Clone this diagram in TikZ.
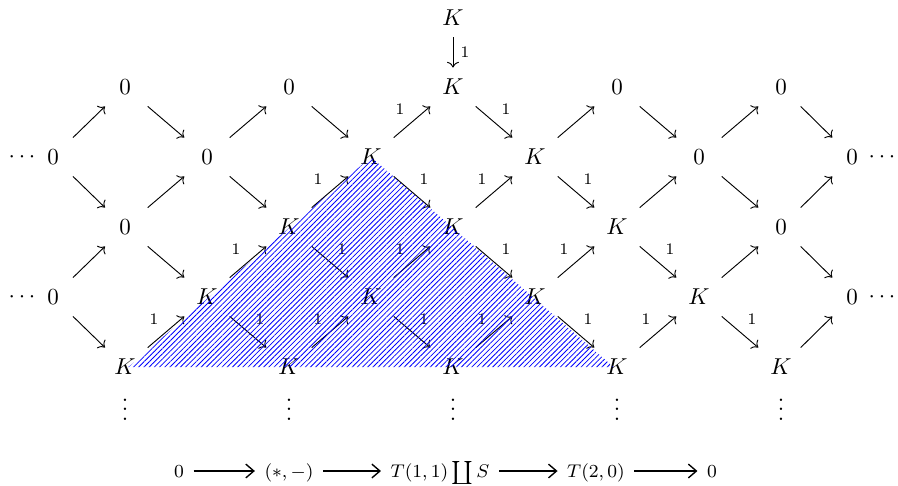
\documentclass[tikz,border=0pt]{standalone}
\usetikzlibrary{arrows.meta,patterns.meta}
\begin{document}
\begin{tikzpicture}[x=0.4348pt,y=-0.4348pt,
  cell/.style={minimum width=20pt,minimum height=16.5pt,inner sep=0pt,text height=6.83pt,text depth=0pt},
  dotcell/.style={inner sep=0pt},
  vcell/.style={inner sep=0pt,anchor=base},
  arr/.style={->},
  lab/.style={auto,font=\scriptsize,inner sep=3pt},
  seq/.style={font=\footnotesize,inner sep=4pt,text height=7pt,text depth=1pt},
  seqarr/.style={-{Straight Barb[length=3.5pt,width=6pt]},line width=0.6pt},
  hatch/.style={pattern={Lines[angle=45,distance=1.6pt,line width=0.35pt]},pattern color=blue}]
\useasboundingbox (0,0) rectangle (898,485);
% top
\node[cell] (c5r0) at (453,18) {$K$};
% row 1
\node[cell] (c1r1) at (125,87) {$0$};
\node[cell] (c3r1) at (289,87) {$0$};
\node[cell] (c5r1) at (453,87) {$K$};
\node[cell] (c7r1) at (617,87) {$0$};
\node[cell] (c9r1) at (781,87) {$0$};
% row 2
\node[dotcell] (ld2) at (22,157) {$\cdots$};
\node[cell] (c0r2) at (53,157) {$0$};
\node[cell] (c2r2) at (207,157) {$0$};
\node[cell] (c4r2) at (371,157) {$K$};
\node[cell] (c6r2) at (535,157) {$K$};
\node[cell] (c8r2) at (699,157) {$0$};
\node[cell] (c10r2) at (852,157) {$0$};
\node[dotcell] (rd2) at (882,157) {$\cdots$};
% row 3
\node[cell] (c1r3) at (125,227) {$0$};
\node[cell] (c3r3) at (289,227) {$K$};
\node[cell] (c5r3) at (453,227) {$K$};
\node[cell] (c7r3) at (617,227) {$K$};
\node[cell] (c9r3) at (781,227) {$0$};
% row 4
\node[dotcell] (ld4) at (22,297) {$\cdots$};
\node[cell] (c0r4) at (53,297) {$0$};
\node[cell] (c2r4) at (207,297) {$K$};
\node[cell] (c4r4) at (371,297) {$K$};
\node[cell] (c6r4) at (535,297) {$K$};
\node[cell] (c8r4) at (699,297) {$K$};
\node[cell] (c10r4) at (852,297) {$0$};
\node[dotcell] (rd4) at (882,297) {$\cdots$};
% row 5
\node[cell] (c1r5) at (125,367) {$K$};
\node[cell] (c3r5) at (289,367) {$K$};
\node[cell] (c5r5) at (453,367) {$K$};
\node[cell] (c7r5) at (617,367) {$K$};
\node[cell] (c9r5) at (781,367) {$K$};
% vdots
\node[vcell] (v1) at (125,420) {$\vdots$};
\node[vcell] (v3) at (289,420) {$\vdots$};
\node[vcell] (v5) at (453,420) {$\vdots$};
\node[vcell] (v7) at (617,420) {$\vdots$};
\node[vcell] (v9) at (781,420) {$\vdots$};
% arrows
\draw[arr] (c5r0) -- node[lab] {$1$} (c5r1);
% r2 -> r1
\draw[arr] (c0r2) -- (c1r1);
\draw[arr] (c2r2) -- (c3r1);
\draw[arr] (c4r2) -- node[lab] {$1$} (c5r1);
\draw[arr] (c6r2) -- (c7r1);
\draw[arr] (c8r2) -- (c9r1);
% r1 -> r2
\draw[arr] (c1r1) -- (c2r2);
\draw[arr] (c3r1) -- (c4r2);
\draw[arr] (c5r1) -- node[lab] {$1$} (c6r2);
\draw[arr] (c7r1) -- (c8r2);
\draw[arr] (c9r1) -- (c10r2);
% r2 -> r3
\draw[arr] (c0r2) -- (c1r3);
\draw[arr] (c2r2) -- (c3r3);
\draw[arr] (c4r2) -- node[lab] {$1$} (c5r3);
\draw[arr] (c6r2) -- node[lab] {$1$} (c7r3);
\draw[arr] (c8r2) -- (c9r3);
% r3 -> r2
\draw[arr] (c1r3) -- (c2r2);
\draw[arr] (c3r3) -- node[lab] {$1$} (c4r2);
\draw[arr] (c5r3) -- node[lab] {$1$} (c6r2);
\draw[arr] (c7r3) -- (c8r2);
\draw[arr] (c9r3) -- (c10r2);
% r4 -> r3
\draw[arr] (c0r4) -- (c1r3);
\draw[arr] (c2r4) -- node[lab] {$1$} (c3r3);
\draw[arr] (c4r4) -- node[lab] {$1$} (c5r3);
\draw[arr] (c6r4) -- node[lab] {$1$} (c7r3);
\draw[arr] (c8r4) -- (c9r3);
% r3 -> r4
\draw[arr] (c1r3) -- (c2r4);
\draw[arr] (c3r3) -- node[lab] {$1$} (c4r4);
\draw[arr] (c5r3) -- node[lab] {$1$} (c6r4);
\draw[arr] (c7r3) -- node[lab] {$1$} (c8r4);
\draw[arr] (c9r3) -- (c10r4);
% r4 -> r5
\draw[arr] (c0r4) -- (c1r5);
\draw[arr] (c2r4) -- node[lab] {$1$} (c3r5);
\draw[arr] (c4r4) -- node[lab] {$1$} (c5r5);
\draw[arr] (c6r4) -- node[lab] {$1$} (c7r5);
\draw[arr] (c8r4) -- node[lab] {$1$} (c9r5);
% r5 -> r4
\draw[arr] (c1r5) -- node[lab] {$1$} (c2r4);
\draw[arr] (c3r5) -- node[lab] {$1$} (c4r4);
\draw[arr] (c5r5) -- node[lab] {$1$} (c6r4);
\draw[arr] (c7r5) -- node[lab] {$1$} (c8r4);
\draw[arr] (c9r5) -- (c10r4);
% hatched triangle
\fill[hatch] (c4r2.center) -- ([xshift=1.5pt]c1r5.center) -- ([xshift=-1.5pt]c7r5.center) -- cycle;
% bottom sequence
\node[seq] (s0) at (179,471) {$0$};
\node[seq] (s1) at (289,471) {$(\ast,-)$};
\node[seq] (s2) at (440,471) {$T(1,1)\coprod S$};
\node[seq] (s3) at (596,471) {$T(2,0)$};
\node[seq] (s4) at (712,471) {$0$};
\draw[seqarr] (s0) -- (s1);
\draw[seqarr] (s1) -- (s2);
\draw[seqarr] (s2) -- (s3);
\draw[seqarr] (s3) -- (s4);
\end{tikzpicture}
\end{document}
